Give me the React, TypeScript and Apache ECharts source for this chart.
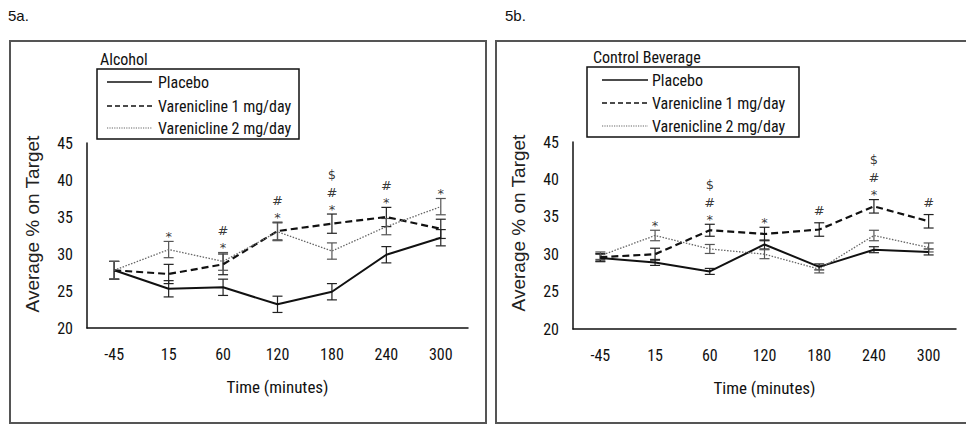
import React, { useEffect, useRef } from "react";
import * as echarts from "echarts";

const categories = ["-45", "15", "60", "120", "180", "240", "300"];
const yTicks = { min: 20, max: 45, interval: 5 };
const seriesNames = ["Placebo", "Varenicline 1 mg/day", "Varenicline 2 mg/day"];

// 5a. Alcohol
const alcPlacebo = [27.8, 25.3, 25.5, 23.2, 24.9, 29.9, 32.2];
const alcPlaceboErr = [1.2, 1.1, 1.1, 1.1, 1.1, 1.1, 1.1];
const alcVar1 = [27.8, 27.3, 28.6, 33.1, 34.1, 35.0, 33.4];
const alcVar1Err = [1.2, 1.3, 1.4, 1.2, 1.3, 1.3, 1.3];
const alcVar2 = [27.8, 30.6, 29.0, 33.0, 30.4, 33.7, 36.4];
const alcVar2Err = [1.2, 1.1, 1.2, 1.2, 1.1, 1.1, 1.1];
const alcMarks = ["", "*", "#\n*", "#\n*", "$\n#\n*", "#\n*", "*"];

// 5b. Control Beverage
const ctrlPlacebo = [29.5, 28.9, 27.7, 31.3, 28.3, 30.6, 30.3];
const ctrlPlaceboErr = [0.5, 0.4, 0.4, 0.6, 0.4, 0.4, 0.4];
const ctrlVar1 = [29.6, 30.0, 33.2, 32.7, 33.3, 36.4, 34.4];
const ctrlVar1Err = [0.5, 0.8, 0.8, 0.9, 0.9, 0.9, 0.9];
const ctrlVar2 = [29.8, 32.5, 30.7, 30.0, 28.0, 32.5, 30.9];
const ctrlVar2Err = [0.5, 0.7, 0.6, 0.6, 0.5, 0.7, 0.6];
const ctrlMarks = ["", "*", "$\n#\n*", "*", "#", "$\n#\n*", "#"];

const FONT = "'Liberation Sans Narrow', 'Roboto Condensed', Roboto, sans-serif";
const ARIAL = "'Liberation Sans', Arial, sans-serif";
const MARK_FONT = "'DejaVu Sans', 'Liberation Sans', sans-serif";
const Y_NAME = "Average % on Target";
const X_NAME = "Time (minutes)";

const lineStyles = [
  { color: "#111", width: 2, type: "solid" as any },
  { color: "#111", width: 2.2, type: [7, 4] as any },
  { color: "#666", width: 1.3, type: [1.5, 1.5] as any },
];

function errorSeries(name: string, means: number[], errs: number[], idx: number, color: string) {
  return {
    type: "custom",
    name: name + " err",
    xAxisIndex: idx,
    yAxisIndex: idx,
    silent: true,
    z: 3,
    data: means.map((m, i) => [i, m - errs[i], m + errs[i]]),
    encode: { x: 0, y: [1, 2] },
    renderItem: (params: any, api: any) => {
      const lo = api.coord([api.value(0), api.value(1)]);
      const hi = api.coord([api.value(0), api.value(2)]);
      const w = 5;
      const st = { stroke: color, lineWidth: 1.2 };
      return {
        type: "group",
        children: [
          { type: "line", shape: { x1: lo[0], y1: lo[1], x2: hi[0], y2: hi[1] }, style: st },
          { type: "line", shape: { x1: lo[0] - w, y1: lo[1], x2: lo[0] + w, y2: lo[1] }, style: st },
          { type: "line", shape: { x1: hi[0] - w, y1: hi[1], x2: hi[0] + w, y2: hi[1] }, style: st },
        ],
      };
    },
  };
}

function markSeries(idx: number, tops: number[], marks: string[]) {
  return {
    type: "custom",
    name: "sig",
    xAxisIndex: idx,
    yAxisIndex: idx,
    silent: true,
    z: 5,
    data: tops.map((t, i) => [i, t]),
    encode: { x: 0, y: 1 },
    renderItem: (params: any, api: any) => {
      const p = api.coord([api.value(0), api.value(1)]);
      const lines = (marks[params.dataIndex] || "").split("\n").filter((s) => s).reverse();
      return {
        type: "group",
        children: lines.map((s, j) => {
          const off = j === 0 ? (s === "*" ? 5 : 12) : j === 1 ? 22 : 40;
          return {
            type: "text",
            x: p[0],
            y: p[1] - off,
            style: {
              text: s,
              fill: "#333",
              opacity: 0.99,
              font: `13px ${MARK_FONT}`,
              align: "center",
              verticalAlign: "middle",
            },
          };
        }),
      };
    },
  };
}

function panelSeries(idx: number, data: number[][], errs: number[][], marks: string[]) {
  const out: any[] = [];
  const errColors = ["#222", "#222", "#555"];
  data.forEach((d, k) => {
    out.push({
      type: "line",
      name: seriesNames[k],
      xAxisIndex: idx,
      yAxisIndex: idx,
      data: d,
      symbol: "none",
      lineStyle: lineStyles[k],
      z: 4,
    });
    out.push(errorSeries(seriesNames[k], d, errs[k], idx, errColors[k]));
  });
  const tops = categories.map((_, i) => Math.max(...data.map((d, k) => d[i] + errs[k][i])));
  out.push(markSeries(idx, tops, marks));
  return out;
}

function legendGraphic(bx: number, by: number, bw: number, bh: number, title: string, rows: number[], lx1: number, lx2: number, tx: number, titleX: number, titleY: number) {
  const els: any[] = [
    { type: "rect", shape: { x: bx, y: by, width: bw, height: bh }, style: { fill: "#fff", stroke: "#111", lineWidth: 1.5 }, z: 10 },
    { type: "text", x: titleX, y: titleY, style: { text: title, font: `16px ${FONT}`, fill: "#111", verticalAlign: "middle", align: "left" }, z: 11 },
  ];
  rows.forEach((ry, k) => {
    const ls = lineStyles[k];
    els.push({
      type: "line",
      shape: { x1: lx1, y1: ry, x2: lx2, y2: ry },
      style: { stroke: ls.color, lineWidth: k === 2 ? 1.2 : 1.5, lineDash: ls.type === "solid" ? null : k === 1 ? [5, 3] : [1.2, 1.2] },
      z: 11,
    });
    els.push({ type: "text", x: tx, y: ry, style: { text: seriesNames[k], font: `16px ${FONT}`, fill: "#111", verticalAlign: "middle", align: "left" }, z: 11 });
  });
  return els;
}

function axisPair(idx: number) {
  return {
    x: {
      type: "category",
      gridIndex: idx,
      data: categories,
      boundaryGap: true,
      axisLine: { show: true, lineStyle: { color: "#111", width: 1.5 } },
      axisTick: { show: false },
      axisLabel: { fontFamily: FONT, fontSize: 16, color: "#111", margin: 18 },
      name: X_NAME,
      nameLocation: "middle",
      nameGap: 50,
      nameTextStyle: { fontFamily: FONT, fontSize: 17, color: "#111" },
    },
    y: {
      type: "value",
      gridIndex: idx,
      min: yTicks.min,
      max: yTicks.max,
      interval: yTicks.interval,
      axisLine: { show: true, lineStyle: { color: "#111", width: 1.5 } },
      axisTick: { show: false },
      splitLine: { show: false },
      axisLabel: { fontFamily: FONT, fontSize: 16, color: "#111", margin: 14 },
    },
  };
}

function yName(x: number, y: number) {
  return {
    type: "text",
    x,
    y,
    rotation: Math.PI / 2,
    style: { text: Y_NAME, font: `19px ${ARIAL}`, fill: "#222", align: "center", verticalAlign: "middle" },
  };
}

export default function App() {
  const ref = useRef<HTMLDivElement>(null);
  useEffect(() => {
    if (!ref.current) return;
    const chart = echarts.init(ref.current, undefined, { renderer: "svg" });
    const a0 = axisPair(0);
    const a1 = axisPair(1);
    chart.setOption({
      animation: false,
      backgroundColor: "#fff",
      grid: [
        { left: 87, top: 143, width: 381, height: 185 },
        { left: 573, top: 142, width: 383, height: 187 },
      ],
      xAxis: [a0.x, a1.x],
      yAxis: [a0.y, a1.y],
      series: [
        ...panelSeries(0, [alcPlacebo, alcVar1, alcVar2], [alcPlaceboErr, alcVar1Err, alcVar2Err], alcMarks),
        ...panelSeries(1, [ctrlPlacebo, ctrlVar1, ctrlVar2], [ctrlPlaceboErr, ctrlVar1Err, ctrlVar2Err], ctrlMarks),
      ],
      graphic: [
        { type: "text", x: 8, y: 15, style: { text: "5a.", font: `15px ${ARIAL}`, fill: "#111", verticalAlign: "middle" } },
        { type: "text", x: 505, y: 15, style: { text: "5b.", font: `15px ${ARIAL}`, fill: "#111", verticalAlign: "middle" } },
        { type: "rect", shape: { x: 10, y: 41, width: 476, height: 382 }, style: { fill: "none", stroke: "#555", lineWidth: 2 } },
        { type: "rect", shape: { x: 496, y: 41, width: 480, height: 382 }, style: { fill: "none", stroke: "#555", lineWidth: 2 } },
        yName(32, 224),
        yName(518, 223),
        ...legendGraphic(97, 69, 202, 70, "Alcohol", [82, 106, 128], 107, 152, 158, 100, 59),
        ...legendGraphic(587, 67, 212, 70, "Control Beverage", [80, 103, 126], 602, 648, 652, 593, 57),
      ],
    });
    return () => chart.dispose();
  }, []);
  return <div ref={ref} style={{ position: "fixed", left: 0, top: 0, width: 966, height: 424 }} />;
}
